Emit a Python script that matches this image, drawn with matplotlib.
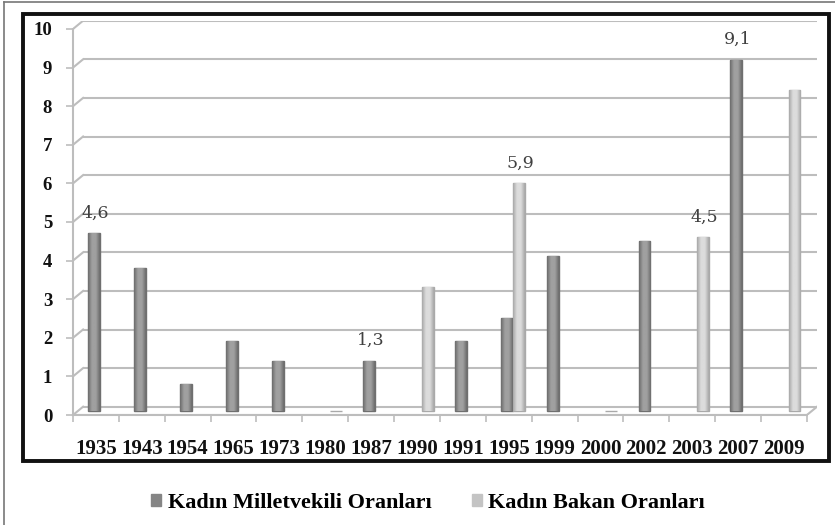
import matplotlib.pyplot as plt
import numpy as np
from matplotlib.patches import Rectangle
from matplotlib.lines import Line2D
from matplotlib.colors import LinearSegmentedColormap

years = ['1935', '1943', '1954', '1965', '1973', '1980', '1987', '1990',
         '1991', '1995', '1999', '2000', '2002', '2003', '2007', '2009']
milletvekili = [4.6, 3.7, 0.7, 1.8, 1.3, np.nan, 1.3, np.nan,
                1.8, 2.4, 4.0, np.nan, 4.4, np.nan, 9.1, np.nan]
bakan = [np.nan, np.nan, np.nan, np.nan, np.nan, 0, np.nan, 3.2,
         np.nan, 5.9, np.nan, 0, np.nan, 4.5, np.nan, 8.3]
# which bars carry a value label: (series, index)
labelled = [('mv', 0), ('mv', 6), ('bk', 9), ('bk', 13), ('mv', 14)]
legend_names = ['Kadın Milletvekili Oranları', 'Kadın Bakan Oranları']

dark = '#858585'
light = '#c4c4c4'
grid_c = '#bdbdbd'
dx, dy = 0.22, 0.215   # fake 3d depth
w = 0.26

W, H = 835, 525
fig = plt.figure(figsize=(W / 100, H / 100), dpi=100)

# axes: x -0.5 .. 15.5+dx -> px 73 .. 817 ; y -dy .. 10 -> px 415 .. 20.7
ax = fig.add_axes([73 / W, (H - 415) / H, (817 - 73) / W, (415 - 20.7) / H])
ax.set_xlim(-0.5, 15.5 + dx)
ax.set_ylim(-dy, 10)
ax.patch.set_visible(False)

x = np.arange(len(years))

# back wall grid lines + diagonals from the front axis
for v in range(11):
    ax.plot([-0.5 + dx, 15.5 + dx], [v, v], color=grid_c, lw=1.5, zorder=1, solid_capstyle='butt')
    ax.plot([-0.5, -0.5 + dx], [v - dy, v], color=grid_c, lw=1.5, zorder=1)
# floor
ax.plot([-0.5, 15.5], [-dy, -dy], color=grid_c, lw=1.5, zorder=1)
ax.plot([15.5, 15.5 + dx], [-dy, 0], color=grid_c, lw=1.5, zorder=1)

for sp in ['top', 'right']:
    ax.spines[sp].set_visible(False)
ax.spines['left'].set_bounds(-dy, 10 - dy)
ax.spines['left'].set_color(grid_c)
ax.spines['left'].set_linewidth(1.5)
ax.spines['bottom'].set_position(('data', -dy))
ax.spines['bottom'].set_bounds(-0.5, 15.5)
ax.spines['bottom'].set_color(grid_c)
ax.spines['bottom'].set_linewidth(1.5)

ax.set_yticks(np.arange(11) - dy, [str(v) for v in range(11)])
ax.set_xticks(x, years)
ax.set_xticks(np.arange(17) - 0.5, minor=True)
ax.tick_params(axis='x', which='major', length=0, pad=17)
ax.tick_params(axis='x', which='minor', length=5, width=1.2, color=grid_c)
ax.tick_params(axis='y', length=5, width=1.2, color=grid_c, pad=10)
for lab in ax.get_yticklabels():
    lab.set_fontsize(13.5)
for lab in ax.get_xticklabels():
    lab.set_fontsize(15)
for lab in ax.get_yticklabels() + ax.get_xticklabels():
    lab.set_fontfamily('Liberation Serif')
    lab.set_fontweight('bold')
    lab.set_color('#111111')


def cyl(color_edge, color_mid):
    return LinearSegmentedColormap.from_list('c', [color_edge, color_mid, color_mid, color_edge])


grad = np.linspace(0, 1, 64).reshape(1, -1)


def draw(vals, offs, col, cmap, edge):
    bars = ax.bar(x + offs, vals, w, bottom=-dy / 2, color=col, edgecolor=edge,
                  linewidth=1.0, zorder=3)
    for b, v in zip(bars, vals):
        if np.isnan(v) or v == 0:
            continue
        im = ax.imshow(grad, cmap=cmap, aspect='auto', zorder=3.5,
                       extent=[b.get_x(), b.get_x() + b.get_width(),
                               b.get_y(), b.get_y() + b.get_height()])
        im.set_clip_path(b)
    return bars


bars_mv = draw(milletvekili, -0.04, dark, cyl('#6c6c6c', '#a0a0a0'), '#6f6f6f')
bars_bk = draw(bakan, 0.23, light, cyl('#a8a8a8', '#dcdcdc'), '#a9a9a9')
ax.set_xlim(-0.5, 15.5 + dx)
ax.set_ylim(-dy, 10)

for s, i in labelled:
    b = bars_mv[i] if s == 'mv' else bars_bk[i]
    v = milletvekili[i] if s == 'mv' else bakan[i]
    ax.text(b.get_x() + b.get_width() / 2 + 0.03, b.get_y() + b.get_height() + 0.3,
            f'{v:.1f}'.replace('.', ','), ha='center', va='bottom',
            fontsize=12.5, family='DejaVu Serif', color='#404040')

# inner thick box and outer thin border
fig.add_artist(Rectangle((23 / W, (H - 461) / H), (829 - 23) / W, (461 - 14) / H,
                         transform=fig.transFigure, fill=False, edgecolor='#111111', lw=2.8))
fig.add_artist(Line2D([4 / W, 4 / W], [0, (H - 2) / H], transform=fig.transFigure,
                      color='#777777', lw=1.2))
fig.add_artist(Line2D([4 / W, 1], [(H - 2) / H, (H - 2) / H], transform=fig.transFigure,
                      color='#777777', lw=1.2))

handles = [Rectangle((0, 0), 1, 1, color=dark), Rectangle((0, 0), 1, 1, color=light)]
fig.legend(handles, legend_names, loc='center', bbox_to_anchor=(428 / W, (H - 503) / H),
           ncol=2, frameon=False, handlelength=0.45, handleheight=0.45, handletextpad=0.3,
           columnspacing=1.8, prop={'family': 'Liberation Serif', 'weight': 'bold', 'size': 16})

fig.savefig('out.png', dpi=100)
